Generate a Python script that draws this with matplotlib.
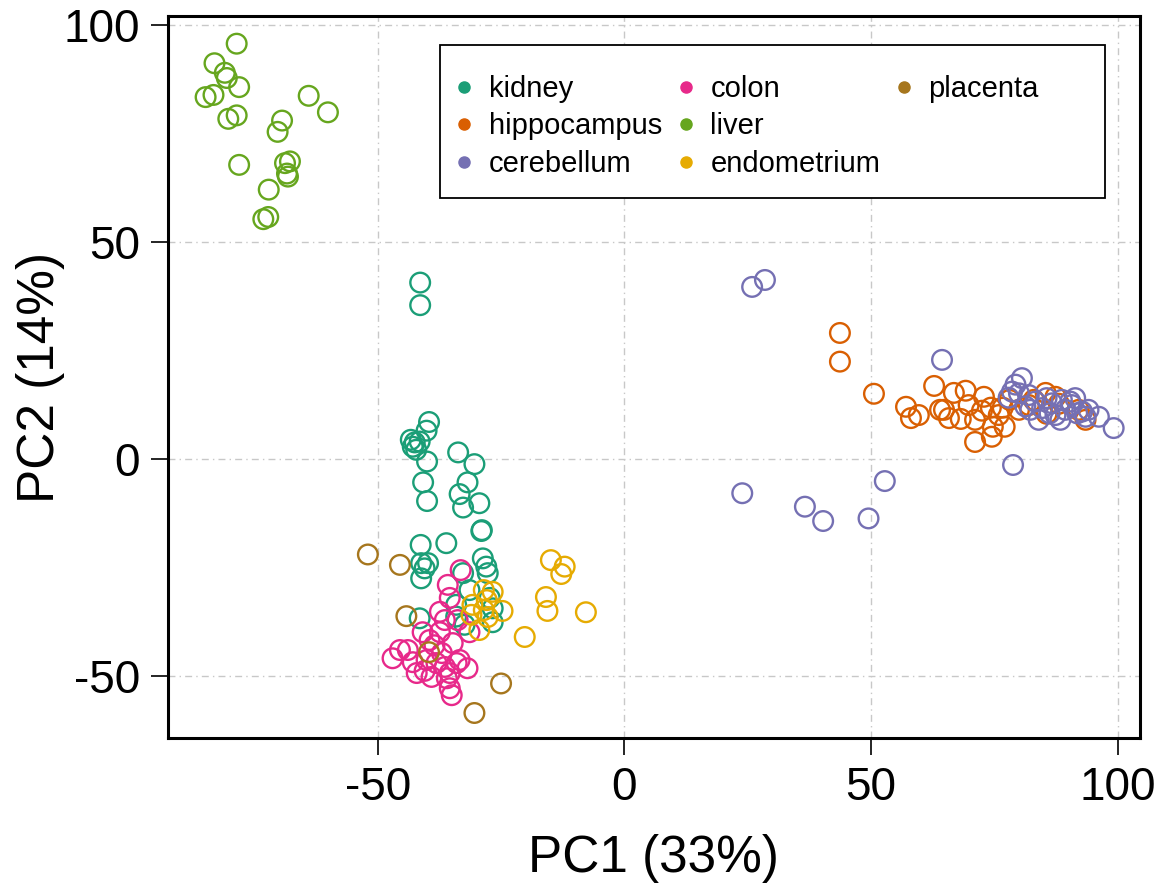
import matplotlib
matplotlib.use("Agg")
import matplotlib.pyplot as plt
from matplotlib.lines import Line2D
from matplotlib.patches import Rectangle

plt.rcParams['font.family'] = ['Liberation Sans', 'DejaVu Sans']
plt.rcParams['axes.unicode_minus'] = False

# ── PCA scores ────────────────────────────────────────────────────────────────
kidney_x = [-41.4, -41.4, -39.6, -40.1, -43.3, -42.5, -42.9, -41.5, -42.2, -40.0,
            -33.7, -30.4, -31.8, -40.8, -33.4, -32.7, -29.4, -40.0, -28.9, -29.0,
            -36.1, -41.3, -41.2, -39.8, -40.5, -28.7, -28.0, -27.7, -41.2, -32.7,
            -26.7, -26.7, -41.5, -34.1, -34.1, -27.3, -31.4, -32.4]
kidney_y = [40.6, 35.4, 8.5, 6.5, 4.4, 3.8, 2.8, 4.0, 2.1, -0.6,
            1.5, -1.2, -5.4, -5.4, -8.1, -11.2, -10.2, -9.7, -16.4, -16.6,
            -19.4, -19.8, -24.0, -24.0, -25.2, -22.9, -24.8, -26.3, -27.5, -26.3,
            -34.4, -37.6, -36.7, -33.6, -36.3, -32.0, -30.2, -38.2]

hippo_x = [43.7, 43.7, 50.6, 57.1, 58.1, 59.7, 62.8, 64.0, 66.8, 69.2,
           68.2, 71.1, 71.1, 72.9, 74.3, 74.7, 74.5, 77.1, 76.7, 78.1,
           85.4, 85.6, 87.4, 92.1, 93.5, 88.1, 80.0, 82.0, 83.0, 75.9,
           65.8, 69.8, 72.5, 64.8]
hippo_y = [29.0, 22.4, 15.0, 12.0, 9.4, 10.1, 16.8, 11.3, 15.2, 15.7,
           9.2, 9.0, 3.9, 14.3, 11.8, 7.4, 5.1, 7.4, 11.8, 13.6,
           15.2, 10.4, 14.3, 11.3, 9.0, 12.7, 11.3, 12.4, 13.6, 10.1,
           9.4, 12.4, 11.1, 11.3]

cereb_x = [25.9, 28.5, 64.4, 23.9, 36.6, 40.3, 49.5, 52.8, 78.8, 99.2,
           96.2, 80.6, 79.3, 78.6, 80.0, 77.9, 81.3, 82.3, 83.3, 84.7,
           86.7, 88.7, 90.4, 91.4, 89.4, 88.4, 91.8, 92.8, 94.1, 90.7,
           86.2, 87.4, 84.0, 93.5, 82.0, 85.6]
cereb_y = [39.6, 41.2, 22.8, -7.9, -11.0, -14.3, -13.7, -5.1, -1.4, 7.1,
           9.7, 18.6, 17.1, 15.5, 15.1, 14.1, 12.1, 11.3, 13.2, 11.7,
           12.8, 13.6, 13.2, 14.0, 11.3, 9.0, 10.5, 10.9, 11.3, 12.4,
           10.5, 10.1, 9.0, 9.7, 14.7, 14.0]

colon_x = [-33.2, -35.8, -35.4, -37.4, -33.8, -31.4, -40.9, -37.4, -34.8, -47.0,
           -43.9, -42.9, -45.5, -40.5, -38.1, -37.0, -34.0, -31.8, -35.4, -35.4,
           -35.0, -39.1, -33.4, -42.1, -40.1, -36.4, -38.5, -36.4, -39.5, -36.0]
colon_y = [-25.6, -29.0, -32.0, -35.2, -37.1, -39.9, -39.9, -39.9, -42.4, -45.9,
           -44.0, -46.8, -44.0, -48.8, -47.0, -44.7, -47.0, -48.2, -49.3, -52.8,
           -54.4, -50.2, -46.3, -49.3, -46.3, -47.9, -42.9, -37.1, -41.7, -50.5]

liver_x = [-78.6, -83.1, -81.0, -80.6, -78.1, -84.9, -83.3, -80.3, -78.6, -64.0,
           -60.1, -69.4, -70.3, -78.1, -68.8, -67.8, -68.4, -68.2, -72.1, -73.2,
           -72.2]
liver_y = [95.6, 91.1, 88.9, 87.7, 85.6, 83.3, 83.8, 78.3, 79.1, 83.6,
           79.8, 77.9, 75.3, 67.7, 68.1, 68.5, 65.7, 65.0, 62.0, 55.2,
           55.7]

endo_x = [-14.9, -12.1, -12.8, -15.9, -15.6, -7.8, -20.2, -28.5, -26.7, -27.9,
          -30.8, -28.5, -24.7, -31.0, -29.4, -27.7]
endo_y = [-23.3, -24.8, -26.5, -31.8, -35.0, -35.3, -41.0, -30.2, -30.6, -32.5,
          -33.6, -34.8, -35.0, -35.9, -39.4, -36.4]

placenta_x = [-52.0, -45.5, -44.2, -39.6, -25.0, -30.4]
placenta_y = [-22.0, -24.4, -36.2, -44.5, -51.7, -58.5]

tissues = ['kidney', 'hippocampus', 'cerebellum', 'colon', 'liver', 'endometrium', 'placenta']
colors = ['#1B9E77', '#D95F02', '#7570B3', '#E7298A', '#66A61E', '#E6AB02', '#A6761D']
xs = [kidney_x, hippo_x, cereb_x, colon_x, liver_x, endo_x, placenta_x]
ys = [kidney_y, hippo_y, cereb_y, colon_y, liver_y, endo_y, placenta_y]

fig = plt.figure(figsize=(11.56, 8.83), dpi=100)
ax = fig.add_axes([0.145, 0.164, 0.841, 0.818])

for t, c, x, y in zip(tissues, colors, xs, ys):
    ax.scatter(x, y, s=200, facecolors='none', edgecolors=c, linewidths=1.7, zorder=3)

ax.set_xlim(-92.6, 104.5)
ax.set_ylim(-64.3, 102)
ax.set_xticks([-50, 0, 50, 100])
ax.set_yticks([-50, 0, 50, 100])
ax.grid(True, color='#C8C8C8', linestyle=(0, (5, 3, 1, 3)), linewidth=1.0, zorder=0)
ax.tick_params(labelsize=33, length=12, width=1.2, pad=8)
for sp in ax.spines.values():
    sp.set_linewidth(2.2)

ax.set_xlabel('PC1 (33%)', fontsize=37)
ax.set_ylabel('PC2 (14%)', fontsize=37)
ax.xaxis.set_label_coords(0.5, -0.132)
ax.yaxis.set_label_coords(-0.106, 0.5)

# legend box (R-style, wider than its content)
ax.add_patch(Rectangle((0.280, 0.748), 0.684, 0.212, transform=ax.transAxes,
                       facecolor='white', edgecolor='black', linewidth=1.3, zorder=4))

# legend entries, filled row-wise like the reference (pad with blanks)
handles = [Line2D([], [], marker='o', linestyle='none', color=c, markersize=8)
           for c in colors]
blank = Line2D([], [], linestyle='none')
handles += [blank, blank]
labels = tissues + ['', '']
leg = ax.legend(handles, labels, ncol=3, loc='upper left',
                bbox_to_anchor=(0.293, 0.918), fontsize=21, frameon=False,
                handletextpad=0.45, columnspacing=0.4, labelspacing=0.32,
                borderpad=0.0, borderaxespad=0.0, handlelength=0.8)
leg.set_zorder(5)

fig.savefig('out.png', dpi=100)
